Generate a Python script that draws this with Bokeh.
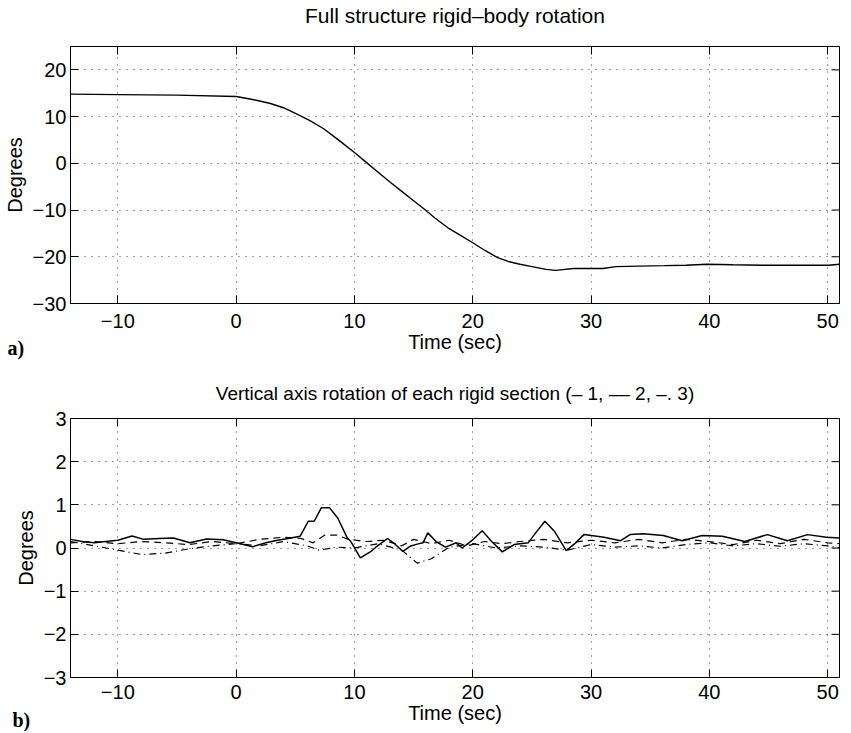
from bokeh.plotting import figure
from bokeh.models import LinearAxis, FixedTicker, Range1d, Title
from bokeh.layouts import column
from bokeh.embed import file_html
from bokeh.resources import INLINE

# ---------------- data ----------------
x_ticks = [-10, 0, 10, 20, 30, 40, 50]
x_span = (-14, 51)
top_y_ticks = [-30, -20, -10, 0, 10, 20]
top_y_span = (-30, 25)
bot_y_ticks = [-3, -2, -1, 0, 1, 2, 3]
bot_y_span = (-3, 3)

rigid_t = [-14, -10, -5, 0, 1.5, 2.9, 4, 5.1, 6.2, 7.4, 8.7, 10, 11, 12, 13, 14, 15,
           16, 16.8, 17.9, 18.9, 20, 21, 22.1, 23, 24, 25, 26.2, 27, 28.5, 30, 31,
           32.1, 34, 36.2, 38, 39.8, 42, 44.5, 47, 50.1, 51]
rigid_deg = [14.8, 14.7, 14.6, 14.3, 13.6, 12.8, 11.9, 10.6, 9.2, 7.4, 4.9, 2.3, 0.2,
             -1.9, -4.0, -6.0, -8.0, -10.0, -11.7, -13.8, -15.3, -17.0, -18.6, -20.2,
             -21.0, -21.6, -22.1, -22.7, -22.9, -22.5, -22.5, -22.5, -22.1, -22.0,
             -21.9, -21.8, -21.6, -21.7, -21.8, -21.8, -21.8, -21.6]

sec1_t = [-14, -13, -12, -11, -10, -8.8, -7.8, -6.5, -5.3, -3.9, -2.5, -1.1, 0, 1.4,
          2.5, 3.5, 4.4, 5.4, 6.1, 6.6, 7.2, 7.9, 8.6, 9.4, 9.7, 10.5, 11.4, 11.9, 12.8,
          13.3, 14.1, 14.7, 15.3, 15.8, 16.2, 16.9, 17.7, 18.6, 19.1, 20, 20.8, 21.6,
          22.5, 23.5, 24.7, 25.2, 26.1, 26.9, 27.9, 28.7, 29.4, 31.1, 32.5, 33.3, 34.4,
          36.1, 37.7, 39.4, 41.1, 43, 44.9, 46.6, 48.3, 49.9, 51]
sec1_deg = [0.20, 0.15, 0.12, 0.15, 0.18, 0.28, 0.20, 0.22, 0.23, 0.12, 0.21, 0.19,
            0.12, 0.03, 0.12, 0.18, 0.22, 0.27, 0.62, 0.62, 0.93, 0.93, 0.69, 0.23,
            0.15, -0.23, -0.08, 0.04, 0.22, 0.12, -0.08, 0.04, 0.09, 0.12, 0.35, 0.15,
            0.02, 0.12, 0.0, 0.19, 0.40, 0.15, -0.09, 0.08, 0.12, 0.31, 0.62, 0.39,
            -0.06, 0.12, 0.31, 0.25, 0.17, 0.31, 0.33, 0.29, 0.17, 0.29, 0.27, 0.15,
            0.31, 0.17, 0.31, 0.25, 0.23]

sec2_t = [-14, -12, -10, -8, -6, -4, -2, 0, 2, 4, 5.5, 6.5, 7.5, 8.5, 9.5, 11, 12.5,
          14, 15, 16.5, 18, 19.5, 21, 22.5, 24, 26, 28, 30, 32, 34, 36, 38, 40, 42, 44,
          46, 48, 50, 51]
sec2_deg = [0.12, 0.15, 0.10, 0.15, 0.12, 0.08, 0.15, 0.10, 0.20, 0.25, 0.22, 0.12,
            0.30, 0.30, 0.20, 0.15, 0.18, 0.05, 0.20, 0.10, 0.18, 0.05, 0.15, 0.10,
            0.15, 0.20, 0.12, 0.18, 0.12, 0.20, 0.12, 0.20, 0.15, 0.08, 0.18, 0.10,
            0.20, 0.12, 0.10]

sec3_t = [-14, -12, -10, -8, -6, -4, -2, 0, 2, 4, 6, 7, 8.5, 10, 12, 14, 15.3, 16.5,
          18, 20, 22, 24, 26, 28, 30, 32, 34, 36, 38, 40, 42, 44, 46, 48, 50, 51]
sec3_deg = [0.15, 0.05, -0.05, -0.15, -0.12, -0.02, 0.05, 0.10, 0.05, 0.15, 0.05,
            -0.05, 0.02, 0.00, 0.10, -0.05, -0.35, -0.25, 0.02, 0.10, 0.00, 0.05, 0.02,
            -0.05, 0.08, 0.02, 0.05, 0.00, 0.08, 0.12, 0.05, 0.10, 0.04, 0.10, 0.05, 0.0]

# ---------------- styling ----------------
SANS = "Liberation Sans"
TICK = "20px"
LABEL = "20px"


def base_fig(height, bl, br, bt, bb, yspan, yticks, title, title_size, title_gap,
             tick_gap, tag, tag_standoff):
    p = figure(width=843, height=height, x_range=Range1d(*x_span),
               y_range=Range1d(*yspan), output_backend="svg", toolbar_location=None,
               min_border_left=bl, min_border_right=br, min_border_top=bt,
               min_border_bottom=bb)
    p.outline_line_color = "black"
    p.outline_line_width = 1
    p.background_fill_color = "white"
    p.border_fill_color = "white"

    p.xaxis.ticker = FixedTicker(ticks=x_ticks)
    p.yaxis.ticker = FixedTicker(ticks=yticks)
    p.xaxis.axis_label = "Time (sec)"
    p.yaxis.axis_label = "Degrees"
    for ax in (p.xaxis[0], p.yaxis[0]):
        ax.major_tick_in = 8
        ax.major_tick_out = 0
        ax.minor_tick_line_color = None
        ax.axis_line_color = "black"
        ax.major_tick_line_color = "black"
        ax.major_label_text_font = SANS
        ax.major_label_text_font_size = TICK
        ax.major_label_text_color = "black"
        ax.axis_label_text_font = SANS
        ax.axis_label_text_font_size = LABEL
        ax.axis_label_text_font_style = "normal"
        ax.axis_label_text_color = "black"
    p.xaxis.major_label_standoff = tick_gap
    p.xaxis.axis_label_standoff = 0
    p.yaxis.major_label_standoff = 4
    p.yaxis.axis_label_standoff = 4

    # top axis: inward ticks, no numbers; its label carries the panel title
    top = LinearAxis(ticker=FixedTicker(ticks=x_ticks),
                     major_label_overrides={t: "" for t in x_ticks},
                     major_label_text_font_size="0px",
                     major_tick_in=8, major_tick_out=0, minor_tick_line_color=None,
                     major_label_standoff=0, axis_line_color="black",
                     major_tick_line_color="black",
                     axis_label=title, axis_label_standoff=title_gap,
                     axis_label_text_font=SANS, axis_label_text_font_size=title_size,
                     axis_label_text_font_style="normal", axis_label_text_color="black")
    p.add_layout(top, "above")

    # inward ticks on the right edge
    p.scatter(x=[x_span[1]] * len(yticks), y=yticks, marker="dash", size=16,
              line_color="black", line_width=1)

    for g in (p.xgrid[0], p.ygrid[0]):
        g.grid_line_color = "black"
        g.grid_line_dash = "1 6"
        g.grid_line_alpha = 0.75
        g.grid_line_width = 1

    p.add_layout(Title(text=tag, align="left", offset=-bl, standoff=tag_standoff,
                       vertical_align="top",
                       text_font="Liberation Serif", text_font_style="bold",
                       text_font_size="20px", text_color="black"), "below")
    return p


p1 = base_fig(370, 63, 1, 44, 67, top_y_span, top_y_ticks,
              "Full structure rigid\u2013body rotation", "21px", 20, 10, "a)", -37)
p1.line(rigid_t, rigid_deg, line_color="black", line_width=1.4)

p2 = base_fig(362, 58, 4, 48, 55, bot_y_span, bot_y_ticks,
              "Vertical axis rotation of each rigid section (\u2013 1, \u2013\u2013 2, \u2013. 3)",
              "19px", 15, 7, "b)", -35)
p2.line(sec3_t, sec3_deg, line_color="black", line_width=1.2, line_dash="7 4 1 4")
p2.line(sec2_t, sec2_deg, line_color="black", line_width=1.2, line_dash="7 5")
p2.line(sec1_t, sec1_deg, line_color="black", line_width=1.5)

layout = column(p1, p2, spacing=0)
open("out.html", "w").write(file_html(layout, INLINE))
